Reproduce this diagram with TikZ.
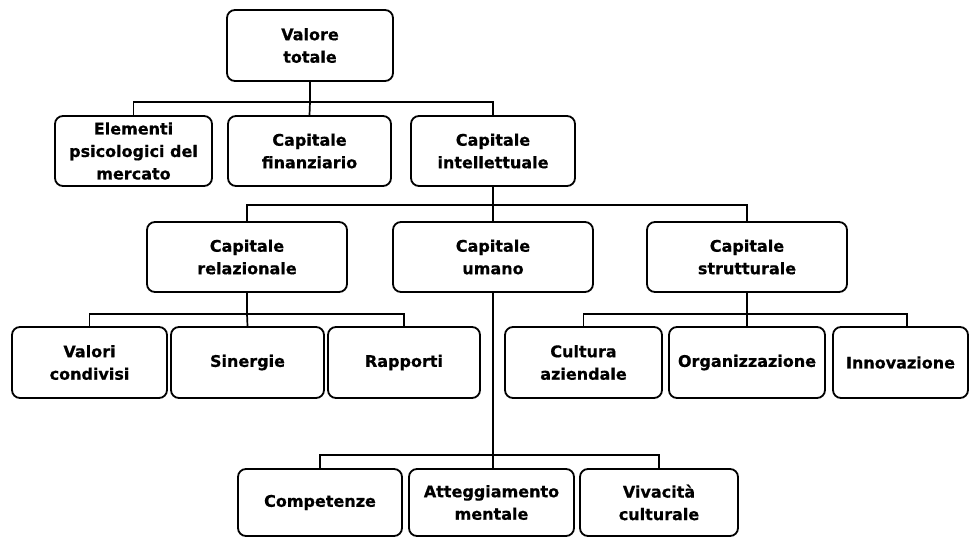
\documentclass[tikz,border=0pt]{standalone}
\usepackage{fontspec}
\setmainfont{DejaVu Sans}[BoldFeatures={FakeBold=0.6}]
\usetikzlibrary{calc}
\begin{document}
\begin{tikzpicture}[x=1pt,y=-1pt,
  box/.style={draw, line width=1.8pt, rounded corners=8pt, rectangle,
    align=center, inner sep=0pt, minimum height=70pt,
    font=\bfseries\fontsize{16}{22.5}\selectfont},
  bus/.style={line width=1.7pt},
  trunk/.style={line width=2.3pt}]
\useasboundingbox (0,0) rectangle (973,538);

% top
\node[box, minimum width=166pt, minimum height=71pt] (V) at (310,45.5) {Valore\\totale};

% second level
\node[box, minimum width=157pt] (E) at (133.5,151) {Elementi\\psicologici del\\mercato};
\node[box, minimum width=163pt] (F) at (309.5,151) {Capitale\\finanziario};
\node[box, minimum width=164pt] (I) at (493,151) {Capitale\\intellettuale};

% third level
\node[box, minimum width=200pt] (R) at (247,257) {Capitale\\relazionale};
\node[box, minimum width=200pt] (U) at (493,257) {Capitale\\umano};
\node[box, minimum width=200pt] (S) at (747,257) {Capitale\\strutturale};

% fourth level
\node[box, minimum width=155pt, minimum height=71pt] (VC) at (89.5,362.5) {Valori\\condivisi};
\node[box, minimum width=153pt, minimum height=71pt] (SI) at (247.5,362.5) {Sinergie};
\node[box, minimum width=152pt, minimum height=71pt] (RA) at (404,362.5) {Rapporti};
\node[box, minimum width=157pt, minimum height=71pt] (CA) at (583.5,362.5) {Cultura\\aziendale};
\node[box, minimum width=156pt, minimum height=71pt] (OR) at (747,362.5) {Organizzazione};
\node[box, minimum width=135pt, minimum height=71pt] (IN) at (900.5,362.5) {Innovazione};

% fifth level
\node[box, minimum width=164pt, minimum height=67pt] (CO) at (320,502.5) {Competenze};
\node[box, minimum width=165pt, minimum height=67pt] (AM) at (491.5,502.5) {Atteggiamento\\mentale};
\node[box, minimum width=158pt, minimum height=67pt] (VI) at (659,502.5) {Vivacità\\culturale};

% connectors: trunk down from the parent, bus across, drop to each child
\draw[trunk] (V.south) -- ++(0,20) coordinate (b1);
\draw[bus] (b1) -| (E.north);
\draw[bus] (b1) -- (F.north);
\draw[bus] (b1) -| (I.north);

\draw[trunk] (I.south) -- ++(0,18) coordinate (b2);
\draw[bus] (b2) -| (R.north);
\draw[bus] (b2) -- (U.north);
\draw[bus] (b2) -| (S.north);

\draw[trunk] (R.south) -- ++(0,21) coordinate (b3);
\draw[bus] (b3) -| (VC.north);
\draw[bus] (b3) -- (SI.north);
\draw[bus] (b3) -| (RA.north);

\draw[trunk] (S.south) -- ++(0,21) coordinate (b4);
\draw[bus] (b4) -| (CA.north);
\draw[bus] (b4) -- (OR.north);
\draw[bus] (b4) -| ($(IN.north)+(6.5,0)$);

\draw[trunk] (U.south) -- ++(0,162) coordinate (b5);
\draw[bus] (b5) -| (CO.north);
\draw[bus] (b5) -- (AM.north -| b5);
\draw[bus] (b5) -| (VI.north);
\end{tikzpicture}
\end{document}
